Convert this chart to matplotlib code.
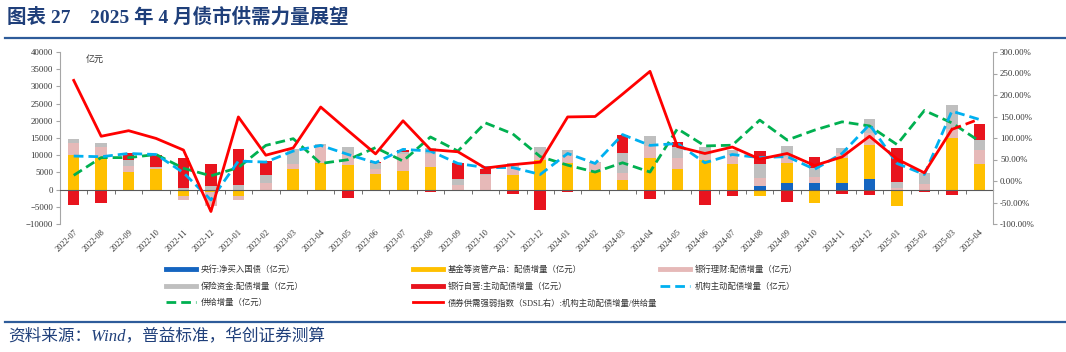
import numpy as np
import matplotlib
matplotlib.use("Agg")
import matplotlib.pyplot as plt
from matplotlib.lines import Line2D
from matplotlib.ticker import FixedLocator, FuncFormatter

SERIF_CJK = ['Liberation Serif', 'Noto Sans CJK SC', 'DejaVu Sans']
plt.rcParams['font.family'] = SERIF_CJK

# ── Data ──────────────────────────────────────────────────────────────────────
months = ['2022-07', '2022-08', '2022-09', '2022-10', '2022-11', '2022-12',
          '2023-01', '2023-02', '2023-03', '2023-04', '2023-05', '2023-06',
          '2023-07', '2023-08', '2023-09', '2023-10', '2023-11', '2023-12',
          '2024-01', '2024-02', '2024-03', '2024-04', '2024-05', '2024-06',
          '2024-07', '2024-08', '2024-09', '2024-10', '2024-11', '2024-12',
          '2025-01', '2025-02', '2025-03', '2025-04']

central_bank = [0, 0, 0, 0, 0, 0, 0, 0, 0, 0, 0, 0, 0, 0, 0, 0, 0, 0,
                0, 0, 0, 0, 0, 0, 0, 1000, 2000, 1800, 2000, 3000, 0, 0, 0, 0]
funds = [10000, 9500, 5100, 5900, -1800, -800, -1800, 0, 6100, 7600, 7100, 4400,
         5400, 6600, -400, 0, 4200, 8600, 7800, 5100, 2800, 9100, 6100, 8500,
         7300, -2000, 5800, -3800, 7200, 10100, -4700, 0, 14900, 7300]
wealth = [3600, 3000, 1900, 500, -1200, -4000, -1300, 2000, 1300, 5200, 3200, 1500,
          5000, 3700, 1400, 4200, 2700, 1600, 1900, 2700, 1900, 3600, 3000, 1500,
          2900, 2400, 1700, 1900, 1500, 3400, 600, 1500, 2600, 4200]
insurance = [1000, 1100, 1600, 300, 600, 1000, 1400, 2100, 4400, 500, 2200, 1700,
             500, 1900, 1800, 300, 800, 2100, 1700, 200, 6000, 2900, 3300, 2500,
             1400, 3900, 3100, 2600, 1300, 4100, 1600, 3400, 7000, 2800]
bank_own = [-4500, -4000, 2100, 3500, 8700, 6300, 10300, 4200, 0, -300, -2300, 400,
            600, -700, 4400, 1600, -1400, -5800, -700, 0, 5300, -2600, 1300, -4500,
            -2000, 3900, -3500, 3200, -1300, -1600, 10000, -700, -1500, 4900]

supply = [4150, 9300, 9300, 10200, 6200, 4000, 6400, 12850, 14800, 7600, 8700, 12200,
          8300, 15300, 11200, 19400, 16200, 9600, 7100, 5100, 7800, 5100, 17700, 12700,
          12900, 20200, 14400, 17300, 19700, 18500, 13100, 23000, 19400, 14100]
active_demand = [9750, 9550, 10500, 10200, 4900, -3000, 8300, 8000, 11200, 12850, 10200, 7800,
                 11700, 11200, 7600, 6400, 6400, 4400, 10500, 7600, 16000, 12850, 13400, 7800,
                 10200, 9300, 9600, 5900, 10500, 18900, 7600, 4400, 22800, 20400]
sdsl = [234, 104, 117, 99, 72, -71, 149, 60, 77, 172, 117, 63,
        140, 73, 68, 30, 38, 44, 149, 150, 202, 255, 80, 64,
        79, 51, 64, 36, 56, 104, 51, 19, 120, 144]

bar_series = [
    ('央行:净买入国债（亿元）', central_bank, '#1565C0'),
    ('基金等资管产品：配债增量（亿元）', funds, '#FFC000'),
    ('银行理财:配债增量（亿元）', wealth, '#E6B9B8'),
    ('保险资金:配债增量（亿元）', insurance, '#BFBFBF'),
    ('银行自营:主动配债增量（亿元）', bank_own, '#E8141E'),
]

NAVY = '#1F3F7A'
GRAY = '#A6A6A6'
TXT = '#333333'

# ── Figure ────────────────────────────────────────────────────────────────────
fig = plt.figure(figsize=(10.66, 3.52), dpi=100)
ax = fig.add_axes([60 / 1066, 1 - 224 / 352, 933 / 1066, 172 / 352])
ax2 = ax.twinx()

x = np.arange(len(months))
pos_base = np.zeros(len(months))
neg_base = np.zeros(len(months))
handles = {}
for label, vals, color in bar_series:
    v = np.array(vals, dtype=float)
    bottom = np.where(v >= 0, pos_base, neg_base)
    ax.bar(x, v, 0.42, bottom=bottom, color=color, zorder=2)
    pos_base += np.where(v >= 0, v, 0)
    neg_base += np.where(v < 0, v, 0)
    handles[label] = Line2D([], [], color=color, lw=3.5)

ax.plot(x, supply, color='#00B050', lw=2, dashes=(3.5, 1.8), zorder=3)
ax.plot(x, active_demand, color='#00B0F0', lw=2, dashes=(3.5, 1.8), zorder=3)
ax2.plot(x[:-1], sdsl[:-1], color='#FF0000', lw=2, zorder=4)
ax2.plot(x[-2:], sdsl[-2:], color='#FF0000', lw=2, dashes=(3.5, 1.8), zorder=4)

# left axis
ax.set_xlim(-0.5, len(months) - 0.5)
ax.set_ylim(-10000, 40000)
ax.set_yticks(np.arange(-10000, 40001, 5000))
ax.tick_params(axis='y', direction='out', length=3, color=GRAY, labelsize=6.3,
               labelcolor=TXT, pad=2)
for s in ['right', 'bottom']:
    ax.spines[s].set_visible(False)
ax.spines['left'].set_color(GRAY)
# zero line with ticks between categories
ax.spines['top'].set_position(('data', 0))
ax.spines['top'].set_color('#595959')
ax.spines['top'].set_linewidth(0.8)
ax.spines['top'].set_zorder(2.5)
ax.xaxis.set_major_locator(FixedLocator(x))
ax.xaxis.set_minor_locator(FixedLocator(np.arange(-0.5, len(months), 1.0)))
ax.set_xticklabels(months, rotation=45, ha='right', rotation_mode='anchor',
                   fontsize=6, color=TXT)
ax.tick_params(axis='x', which='major', length=0, pad=3, bottom=True, top=False)
ax.tick_params(axis='x', which='minor', top=True, bottom=False, direction='in',
               length=3, color='#595959')
ax.text(0.028, 0.955, '亿元', transform=ax.transAxes, fontsize=6.5, color=TXT,
        style='italic', va='center')

# right axis
ax2.set_ylim(-100, 300)
ax2.set_yticks(np.arange(-100, 301, 50))
ax2.yaxis.set_major_formatter(FuncFormatter(lambda v, p: f'{v:.2f}%'))
ax2.tick_params(axis='y', direction='out', length=3, color=GRAY, labelsize=6.3,
                labelcolor=TXT, pad=2)
for s in ['left', 'top', 'bottom']:
    ax2.spines[s].set_visible(False)
ax2.spines['right'].set_color(GRAY)

# legend in three columns
handles['供给增量（亿元）'] = Line2D([], [], color='#00B050', lw=2, dashes=(3.5, 1.8))
handles['债券供需强弱指数（SDSL右）:机构主动配债增量/供给量'] = Line2D([], [], color='#FF0000', lw=2)
handles['机构主动配债增量（亿元）'] = Line2D([], [], color='#00B0F0', lw=2, dashes=(3.5, 1.8))
columns = [
    (166, ['央行:净买入国债（亿元）', '保险资金:配债增量（亿元）', '供给增量（亿元）']),
    (413, ['基金等资管产品：配债增量（亿元）', '银行自营:主动配债增量（亿元）',
           '债券供需强弱指数（SDSL右）:机构主动配债增量/供给量']),
    (660, ['银行理财:配债增量（亿元）', '机构主动配债增量（亿元）']),
]
for xpix, labels in columns:
    leg = fig.legend([handles[l] for l in labels], labels, loc='upper left',
                     bbox_to_anchor=(xpix / 1066, 1 - 265 / 352), frameon=False,
                     fontsize=6, handlelength=3.6, handletextpad=0.6,
                     labelspacing=1.0, borderpad=0, borderaxespad=0)
    for t in leg.get_texts():
        t.set_color(TXT)

# title, rules, source
fig.text(7 / 1066, 1 - 17 / 352, '图表 27    2025 年 4 月债市供需力量展望',
         fontsize=14, fontweight='bold', color=NAVY, va='center', ha='left')
fig.add_artist(Line2D([5 / 1066, 1], [1 - 38 / 352] * 2, color='#2E5C9A', lw=1.6))
fig.add_artist(Line2D([5 / 1066, 1], [1 - 321.5 / 352] * 2, color='#2E5C9A', lw=1.6))
fig.text(8 / 1066, 1 - 337 / 352, '资料来源：Wind，普益标准，华创证券测算',
         fontsize=12, style='italic', color=NAVY, va='center', ha='left')

fig.savefig('out.png', dpi=100)
